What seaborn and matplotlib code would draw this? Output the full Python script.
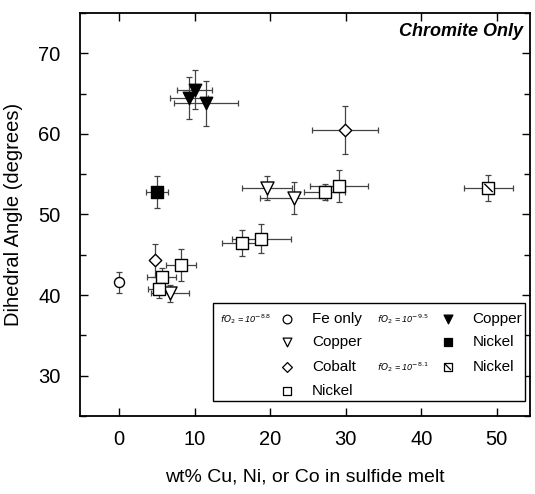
import matplotlib
matplotlib.use("Agg")
import matplotlib.pyplot as plt
import seaborn as sns
import pandas as pd
from matplotlib.path import Path
from matplotlib.ticker import MultipleLocator
from matplotlib.patches import Rectangle

sns.set_theme(style="ticks")
plt.rcParams['font.family'] = ['Liberation Sans', 'DejaVu Sans']
plt.rcParams['text.color'] = 'black'
plt.rcParams['axes.labelcolor'] = 'black'

# fO2 = 10^-8.8
fe_x = [0.0]; fe_y = [41.6]; fe_xe = [0.0]; fe_ye = [1.3]
cu_x = [19.6, 23.1, 6.7]; cu_y = [53.3, 52.0, 40.2]
cu_xe = [3.3, 4.4, 2.5]; cu_ye = [1.5, 2.0, 1.0]
co_x = [29.9, 4.8]; co_y = [60.5, 44.3]
co_xe = [4.4, 0.0]; co_ye = [3.0, 2.0]
ni_x = [27.2, 29.1, 16.2, 18.8, 5.6, 5.3, 8.2]
ni_y = [52.8, 53.5, 46.5, 47.0, 42.3, 40.8, 43.7]
ni_xe = [2.7, 3.8, 2.6, 3.9, 1.9, 1.5, 2.0]
ni_ye = [1.0, 2.0, 1.6, 1.8, 1.0, 1.2, 2.0]
# fO2 = 10^-9.5
cu95_x = [9.2, 10.0, 11.5]; cu95_y = [64.5, 65.5, 63.8]
cu95_xe = [2.5, 2.3, 4.2]; cu95_ye = [2.6, 2.4, 2.8]
ni95_x = [5.0]; ni95_y = [52.8]; ni95_xe = [1.4]; ni95_ye = [2.0]
# fO2 = 10^-8.1
ni81_x = [48.9]; ni81_y = [53.3]; ni81_xe = [3.2]; ni81_ye = [1.6]

fig = plt.figure(figsize=(5.35, 4.94), dpi=100)
ax = fig.add_axes([0.1495, 0.158, 0.8412, 0.8157])

ecol = '#444444'
groups = [
    (fe_x, fe_y, fe_xe, fe_ye, 'o', 'white', 52),
    (cu_x, cu_y, cu_xe, cu_ye, 'v', 'white', 88),
    (co_x, co_y, co_xe, co_ye, 'D', 'white', 40),
    (ni_x, ni_y, ni_xe, ni_ye, 's', 'white', 76),
    (cu95_x, cu95_y, cu95_xe, cu95_ye, 'v', 'black', 80),
    (ni95_x, ni95_y, ni95_xe, ni95_ye, 's', 'black', 76),
    (ni81_x, ni81_y, ni81_xe, ni81_ye, 's', 'white', 76),
]
for gx, gy, gxe, gye, m, fc, s in groups:
    ax.errorbar(gx, gy, xerr=gxe, yerr=gye, fmt='none', ecolor=ecol,
                elinewidth=0.9, capsize=2.0, capthick=0.9, zorder=2)
    df = pd.DataFrame({'x': gx, 'y': gy})
    sns.scatterplot(data=df, x='x', y='y', marker=m, s=s, color=fc,
                    edgecolor='black', linewidth=1.0, ax=ax, zorder=3)

diag = Path([(-1, 1), (1, -1)], [Path.MOVETO, Path.LINETO])
ax.scatter(ni81_x, ni81_y, marker=diag, s=36, facecolor='none',
           edgecolor='black', linewidth=1.0, zorder=4)

ax.set_xlim(-5.2, 54.4)
ax.set_ylim(25, 75)
ax.xaxis.set_major_locator(MultipleLocator(10))
ax.yaxis.set_minor_locator(MultipleLocator(5))
ax.set_yticks([30, 40, 50, 60, 70])
ax.tick_params(which='both', direction='in', top=True, right=True,
               labelsize=14.5, colors='black', width=1.0)
ax.tick_params(which='major', length=6)
ax.tick_params(axis='y', which='major', pad=14)
ax.tick_params(axis='x', which='major', pad=10)
ax.tick_params(which='minor', length=4)
for sp in ax.spines.values():
    sp.set_linewidth(1.3)
    sp.set_color('black')
ax.set_xlabel('wt% Cu, Ni, or Co in sulfide melt', fontsize=14, labelpad=14,
              color='black')
ax.set_ylabel('Dihedral Angle (degrees)', fontsize=14.5, labelpad=11,
              color='black')

ax.text(0.985, 0.975, 'Chromite Only', transform=ax.transAxes, ha='right',
        va='top', fontsize=13, fontweight='bold', fontstyle='italic')

# legend box drawn in data coordinates
ax.add_patch(Rectangle((12.4, 26.8), 41.4, 12.2, facecolor='white',
                       edgecolor='black', linewidth=1.0, zorder=5))
rows = [37.0, 34.2, 31.1, 28.1]
fs = 11
lab = dict(fontsize=6.5, fontstyle='italic', va='center', zorder=6)
ax.text(13.3, rows[0], r'$fO_2$ = 10$^{-8.8}$', **lab)
ax.text(34.2, rows[0], r'$fO_2$ = 10$^{-9.5}$', **lab)
ax.text(34.2, rows[2], r'$fO_2$ = 10$^{-8.1}$', **lab)
leg_items = [
    (22.2, rows[0], 'o', 'white', 'Fe only'),
    (22.2, rows[1], 'v', 'white', 'Copper'),
    (22.2, rows[2], 'D', 'white', 'Cobalt'),
    (22.2, rows[3], 's', 'white', 'Nickel'),
    (43.5, rows[0], 'v', 'black', 'Copper'),
    (43.5, rows[1], 's', 'black', 'Nickel'),
    (43.5, rows[2], 's', 'white', 'Nickel'),
]
for lx, ly, m, fc, t in leg_items:
    ax.scatter([lx], [ly], marker=m, s=40 if m != 'D' else 25,
               facecolor=fc, edgecolor='black', linewidth=0.9, zorder=6)
    ax.text(lx + 3.3, ly, t, fontsize=fs, va='center', zorder=6)
ax.scatter([43.5], [rows[2]], marker=diag, s=20, facecolor='none',
           edgecolor='black', linewidth=0.9, zorder=7)

fig.savefig('out.png', dpi=100)
